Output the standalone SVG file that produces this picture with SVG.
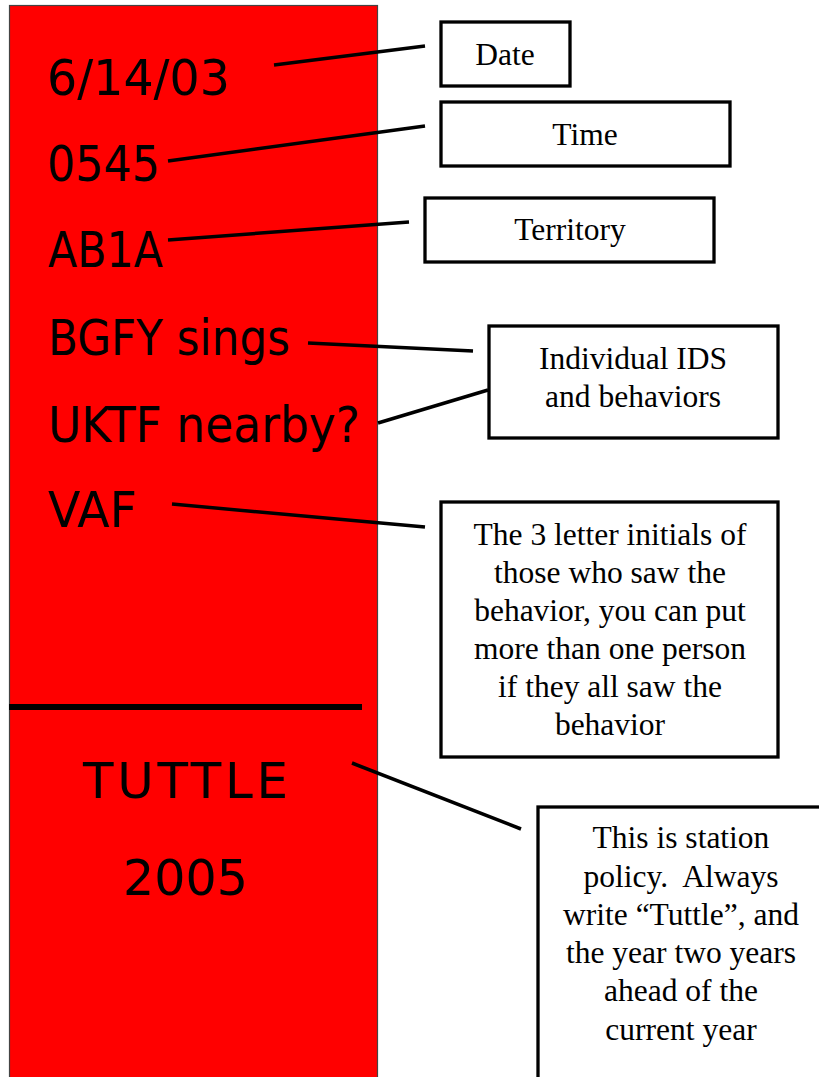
<svg xmlns="http://www.w3.org/2000/svg" width="819" height="1077" viewBox="0 0 819 1077">
<style>
.hand{font-family:"DejaVu Sans","Noto Sans",sans-serif;font-size:50px;fill:#000}
.box{fill:#fff;stroke:#000;stroke-width:3.3}
.lbl{font-family:"Liberation Serif","Times New Roman",serif;font-size:31.5px;fill:#000;text-anchor:middle;white-space:pre}
.con{stroke:#000;stroke-width:3.5;stroke-linecap:butt;fill:none}
</style>
<rect width="819" height="1077" fill="#fff"/>
<g id="panel">
<rect x="9.5" y="5.5" width="368" height="1090" fill="#ff0000" stroke="#444" stroke-width="1.2"/>
<line x1="9" y1="707" x2="362" y2="707" stroke="#000" stroke-width="6"/>
<text class="hand" x="47" y="95" textLength="183" lengthAdjust="spacingAndGlyphs">6/14/03</text>
<text class="hand" x="47" y="181" textLength="113" lengthAdjust="spacingAndGlyphs">0545</text>
<text class="hand" x="48" y="267" textLength="115" lengthAdjust="spacingAndGlyphs">AB1A</text>
<text class="hand" x="48" y="355" textLength="242" lengthAdjust="spacingAndGlyphs">BGFY sings</text>
<text class="hand" x="48" y="442" textLength="312" lengthAdjust="spacingAndGlyphs">UKTF nearby?</text>
<text class="hand" x="48" y="527" textLength="89" lengthAdjust="spacingAndGlyphs">VAF</text>
<text class="hand" x="83" y="798" textLength="205" lengthAdjust="spacing">TUTTLE</text>
<text class="hand" x="123" y="895" textLength="125" lengthAdjust="spacingAndGlyphs">2005</text>
</g>
<g id="connectors">
<line class="con" x1="274" y1="65" x2="425" y2="46"/>
<line class="con" x1="168" y1="161" x2="425" y2="126"/>
<line class="con" x1="168" y1="240" x2="409" y2="222"/>
<line class="con" x1="308" y1="343" x2="473" y2="351"/>
<line class="con" x1="378" y1="423" x2="488" y2="390"/>
<line class="con" x1="172" y1="504" x2="425" y2="527"/>
<line class="con" x1="352" y1="763" x2="521" y2="829"/>
</g>
<g id="date">
<rect class="box" x="441" y="22" width="129" height="64"/>
<text class="lbl" x="505" y="65">Date</text>
</g>
<g id="time">
<rect class="box" x="441" y="102" width="289" height="64"/>
<text class="lbl" x="585" y="145">Time</text>
</g>
<g id="territory">
<rect class="box" x="425" y="198" width="289" height="64"/>
<text class="lbl" x="570" y="240">Territory</text>
</g>
<g id="individual">
<rect class="box" x="489" y="326" width="289" height="112"/>
<text class="lbl" x="633" y="369">Individual IDS</text>
<text class="lbl" x="633" y="407">and behaviors</text>
</g>
<g id="initials">
<rect class="box" x="441" y="502" width="337" height="255"/>
<text class="lbl" x="610" y="545">The 3 letter initials of</text>
<text class="lbl" x="610" y="583">those who saw the</text>
<text class="lbl" x="610" y="621">behavior, you can put</text>
<text class="lbl" x="610" y="659">more than one person</text>
<text class="lbl" x="610" y="697">if they all saw the</text>
<text class="lbl" x="610" y="735">behavior</text>
</g>
<g id="policy">
<rect class="box" x="538" y="807" width="300" height="300"/>
<text class="lbl" x="681" y="848">This is station</text>
<text class="lbl" x="681" y="887" xml:space="preserve">policy.  Always</text>
<text class="lbl" x="681" y="925">write “Tuttle”, and</text>
<text class="lbl" x="681" y="963">the year two years</text>
<text class="lbl" x="681" y="1001">ahead of the</text>
<text class="lbl" x="681" y="1040">current year</text>
</g>
</svg>
